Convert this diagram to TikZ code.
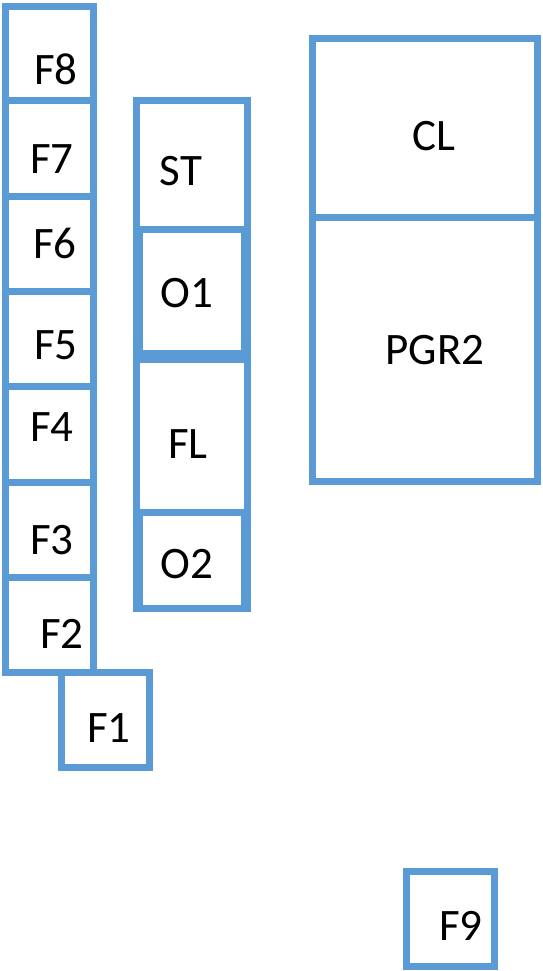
\documentclass[tikz,border=0pt]{standalone}
\usepackage{fontspec}
\setmainfont{Carlito}
\usetikzlibrary{positioning}
\definecolor{boxblue}{RGB}{91,155,213}
\tikzset{
  box/.style={draw=boxblue, line width=7pt, rectangle, inner sep=0pt},
  tag/.style={inner sep=0pt, font=\fontsize{45}{54}\selectfont}
}

\begin{document}
\begin{tikzpicture}[x=1pt,y=-1pt]
  \useasboundingbox (0,0) rectangle (542,971);
  % left column
  \node[box, minimum width=87.5pt, minimum height=94.5pt] (f8) at (49.25,53.75) {};
  \node[box, minimum width=87.5pt, minimum height=95pt] (f7) at (49.25,148.5) {};
  \node[box, minimum width=87.5pt, minimum height=95pt] (f6) at (49.25,243.5) {};
  \node[box, minimum width=87.5pt, minimum height=95pt] (f5) at (49.25,338.5) {};
  \node[box, minimum width=87.5pt, minimum height=96pt] (f4) at (49.25,434) {};
  \node[box, minimum width=87.5pt, minimum height=95pt] (f3) at (49.25,529.5) {};
  \node[box, minimum width=87.5pt, minimum height=95pt] (f2) at (49.25,624.5) {};
  \node[box, minimum width=88pt, minimum height=95pt] (f1) at (105,719.5) {};
  \node[tag] (f8txt) at (56,69) {F8};
  \node[tag] (f7txt) at (52,159) {F7};
  \node[tag] (f6txt) at (55,243) {F6};
  \node[tag] (f5txt) at (56,345) {F5};
  \node[tag] (f4txt) at (52,427) {F4};
  \node[tag] (f3txt) at (52,540) {F3};
  \node[tag] (f2txt) at (62,634) {F2};
  \node[tag] (f1txt) at (109,728) {F1};
  % middle column
  \node[box, minimum width=110.5pt, minimum height=252pt] (st) at (191.75,227) {};
  \node[box, minimum width=105pt, minimum height=124pt] (o1) at (192,291) {};
  \node[box, minimum width=110.5pt, minimum height=249pt] (fl) at (191.75,484.25) {};
  \node[box, minimum width=105pt, minimum height=96pt] (o2) at (192,560) {};
  \node[tag] (sttxt) at (181,171) {ST};
  \node[tag] (o1txt) at (187,293) {O1};
  \node[tag] (fltxt) at (188,444) {FL};
  \node[tag] (o2txt) at (187,564) {O2};
  % right column
  \node[box, minimum width=224.5pt, minimum height=178pt] (cl) at (424.75,128) {};
  \node[box, minimum width=224.5pt, minimum height=264pt] (pgr) at (424.75,349) {};
  \node[tag] (cltxt) at (434,136) {CL};
  \node[tag] (pgrtxt) at (435,350) {PGR2};
  % bottom
  \node[box, minimum width=87.5pt, minimum height=95.5pt] (f9) at (450.25,918.75) {};
  \node[tag] (f9txt) at (461,926) {F9};
\end{tikzpicture}
\end{document}
